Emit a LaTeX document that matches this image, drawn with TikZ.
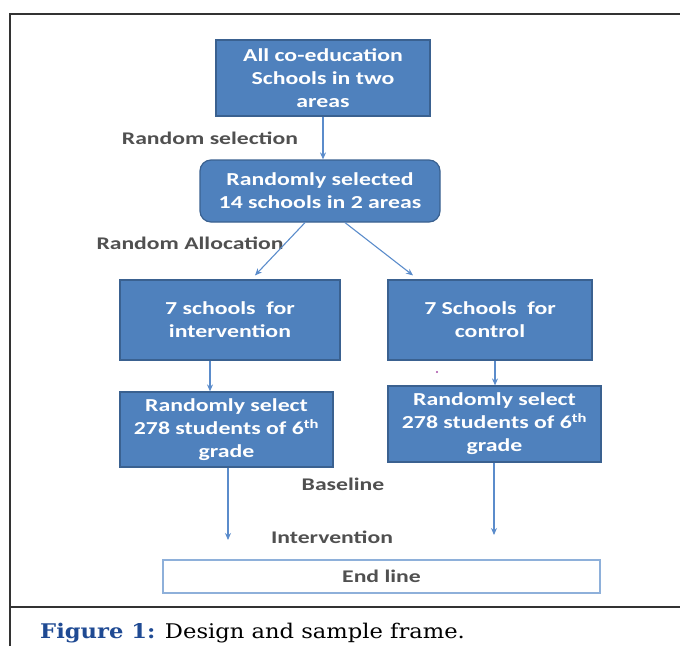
\documentclass[tikz,border=0pt]{standalone}
\usepackage{fontspec}
\setmainfont{Latin Modern Roman}
\newfontfamily\boxfont[FakeStretch=1.3]{Carlito}
\newfontfamily\lblfont[FakeStretch=1.33]{Carlito}
\newfontfamily\capfont[FakeStretch=1.12]{DejaVu Serif}
\usetikzlibrary{arrows.meta,calc}
\definecolor{boxfill}{HTML}{4F81BD}
\definecolor{boxedge}{HTML}{3A6190}
\definecolor{arrcol}{HTML}{5B8CCB}
\definecolor{lblcol}{HTML}{505050}
\definecolor{capblue}{HTML}{1F4A93}
\definecolor{endedge}{HTML}{8EB0DA}
\tikzset{
  bluebox/.style={draw=boxedge, line width=1.2pt, fill=boxfill, text=white,
    font=\boxfont\bfseries\fontsize{18.3}{23}\selectfont, align=center, inner sep=0pt},
  lbl/.style={text=lblcol, font=\lblfont\bfseries\fontsize{17.8}{20}\selectfont, inner sep=0pt},
  arr/.style={draw=arrcol, line width=1.1pt, -{Stealth[length=7pt,width=6pt]}},
  frameline/.style={draw=black!80, line width=2pt}
}
\begin{document}
\begin{tikzpicture}[x=1pt,y=-1pt]
\useasboundingbox (0,0) rectangle (680,646);
% frame
\draw[frameline] (10,646) -- (10,14) -- (680,14);
\draw[frameline] (10,607) -- (680,607);

\node[bluebox, minimum width=214pt, minimum height=76pt] (top) at (323,78)
  {All co-education\\Schools in two\\areas};
\node[bluebox, rounded corners=11pt, minimum width=240pt, minimum height=62pt] (rsel) at (320,191)
  {Randomly selected\\14 schools in 2 areas};
\node[bluebox, minimum width=220pt, minimum height=80pt] (left) at (230,320)
  {7 schools\ \ for\\intervention};
\node[bluebox, minimum width=204pt, minimum height=80pt] (right) at (490,320)
  {7 Schools\ \ for\\control};
\node[bluebox, minimum width=213pt, minimum height=75pt] (lb) at (226.5,429.5)
  {Randomly select\\278 students of 6\textsuperscript{th}\\grade};
\node[bluebox, minimum width=213pt, minimum height=76pt] (rb) at (494.5,424)
  {Randomly select\\278 students of 6\textsuperscript{th}\\grade};
\node[draw=endedge, line width=1.2pt, fill=white, text=lblcol,
  font=\lblfont\bfseries\fontsize{17.8}{20}\selectfont, minimum width=437pt, minimum height=33pt, inner sep=0pt]
  (endl) at (381.5,576.5) {End line};

% labels
\node[lbl] (l1) at (210,138) {Random selection};
\node[lbl] (l2) at (190,243) {Random Allocation};
\node[lbl] (l3) at (343,484) {Baseline};
\node[lbl] (l4) at (332,537) {Intervention};

% connectors
\draw[arr] (top.south) -- (top.south |- rsel.north);
\draw[arr] ([xshift=-15pt]rsel.south) -- ([xshift=25pt,yshift=4pt]left.north);
\draw[arr] ([xshift=25pt]rsel.south) -- ([xshift=-77pt,yshift=4pt]right.north);
\coordinate (la) at ([xshift=-20pt]left.south);
\draw[arr] (la) -- (la |- lb.north);
\coordinate (ra) at ([xshift=5pt]right.south);
\draw[arr] (ra) -- (ra |- rb.north);
\coordinate (lend) at (228,540);
\coordinate (rend) at (494,535);
\draw[arr] (lb.south -| lend) -- (lend);
\draw[arr] (rb.south -| rend) -- (rend);

% stray dot
\fill[violet!70] (437,372) circle (1.2pt);

% caption
\node[anchor=base west, inner sep=0pt, font=\capfont\fontsize{20.2}{24}\selectfont] (cap) at (40,638)
  {\textcolor{capblue}{\textbf{Figure 1:}} Design and sample frame.};
\end{tikzpicture}
\end{document}
